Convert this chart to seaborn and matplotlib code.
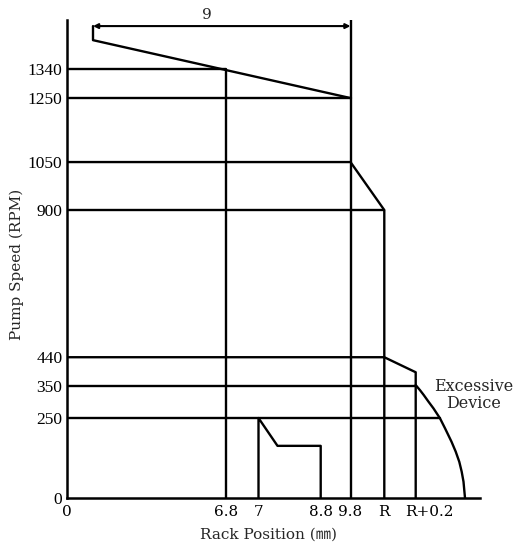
import numpy as np
import pandas as pd
import matplotlib
matplotlib.use("Agg")
import matplotlib.pyplot as plt
import matplotlib.transforms as mtransforms
import seaborn as sns

# ---------------- data ----------------
rpm_levels = [0, 250, 350, 440, 900, 1050, 1250, 1340]
rpm_labels = ["0", "250", "350", "440", "900", "1050", "1250", "1340"]

# rack positions (schematic, non-linear axis in the original drawing)
x_labels = ["0", "6.8", "7", "8.8", "9.8", "R", "R+0.2"]
x_pos = [0.0, 15.92, 19.2, 25.42, 28.4, 31.78, 34.92]

# start of the 9 mm dimension bracket and its speed levels
bracket_x = 2.65
bracket_rpm_top = 1475
bracket_rpm_low = 1431
axis_top_rpm = 1494
axis_end_x = 41.35

# governor shoulders
rpm_after_R02 = 393          # end of 440->R+0.2 slope
small_step_x = 21.1          # knee of the 7..8.8 start-up step
small_step_rpm = 163

# excessive device curve (read points)
curve_x = [34.92, 35.35, 35.72, 36.2, 36.7, 37.35, 37.85, 38.5, 38.92, 39.28, 39.52, 39.7, 39.85]
curve_rpm = [353, 337, 322, 301, 280, 249, 218, 176, 145, 113, 82, 51, 0]

X = dict(zip(x_labels, x_pos))

# ---------------- polylines built from the values ----------------
segments = []
def seg(xs, ys):
    segments.append((list(xs), list(ys)))

seg([bracket_x, bracket_x, X["9.8"]], [bracket_rpm_top, bracket_rpm_low, 1250])
seg([0, X["6.8"], X["6.8"]], [1340, 1340, 0])
seg([0, X["9.8"]], [1250, 1250])
seg([X["9.8"], X["9.8"]], [axis_top_rpm, 0])
seg([0, X["9.8"], X["R"], X["R"]], [1050, 1050, 900, 0])
seg([0, X["R"]], [900, 900])
seg([0, X["R"], X["R+0.2"], X["R+0.2"]], [440, 440, rpm_after_R02, 0])
seg([0, X["R+0.2"]], [350, 350])
seg([0, curve_x[5]], [250, 250])
seg([X["7"], X["7"], small_step_x, X["8.8"], X["8.8"]], [0, 250, small_step_rpm, small_step_rpm, 0])
seg(curve_x, curve_rpm)

rows = []
for i, (xs, ys) in enumerate(segments):
    for j, (a, b) in enumerate(zip(xs, ys)):
        rows.append({"x": a, "rpm": b, "seg": i, "order": j})
df = pd.DataFrame(rows)

# ---------------- plotting ----------------
sns.set_style("white")
plt.rcParams["font.family"] = ["DejaVu Serif", "Noto Sans CJK JP"]

fig = plt.figure(figsize=(5.17, 5.47), dpi=100)
W, H = 517, 547
ax = fig.add_axes([66.5 / W, (H - 498) / H, (480 - 66.5) / W, (498 - 20) / H])

sns.lineplot(data=df, x="x", y="rpm", units="seg", estimator=None, sort=False,
             color="black", linewidth=1.7, ax=ax, legend=False)

# dimension arrow "9"
ax.annotate("", xy=(X["9.8"], bracket_rpm_top), xytext=(bracket_x, bracket_rpm_top),
            arrowprops=dict(arrowstyle="<|-|>", color="black", lw=1.5,
                            mutation_scale=7, shrinkA=0, shrinkB=0),
            annotation_clip=False)
ax.text(14.0, 1509, "9", ha="center", va="center", fontsize=11, clip_on=False)

ax.set_xlim(0, axis_end_x)
ax.set_ylim(0, axis_top_rpm)
sns.despine(ax=ax)
for s in ["left", "bottom"]:
    ax.spines[s].set_linewidth(1.8)
    ax.spines[s].set_color("black")

ax.set_yticks(rpm_levels)
ax.set_yticklabels(rpm_labels, family=["Liberation Serif"], fontsize=12.5)
ax.set_xticks(x_pos)
ax.set_xticklabels(x_labels, fontsize=11)
ax.tick_params(axis="both", length=0, colors="black")
ax.tick_params(axis="y", pad=3)
ax.tick_params(axis="x", pad=5)
ax.set_xlabel("")
ax.set_ylabel("")

# the last rack label sits a little right of its line in the original
lbl = ax.get_xticklabels()[-1]
lbl.set_transform(lbl.get_transform() + mtransforms.ScaledTranslation(14 / 100, 0, fig.dpi_scale_trans))

ax.text(40.7, 322, "Excessive\nDevice", ha="center", va="center", fontsize=11.5,
        linespacing=1.05, clip_on=False)

fig.text(269 / W, 1 - 535 / H, "Rack Position (㎜)", ha="center", va="center", fontsize=11)
fig.text(17 / W, 1 - 264 / H, "Pump Speed (RPM)", ha="center", va="center",
         rotation=90, fontsize=11)

fig.savefig("out.png", dpi=100, facecolor="white")
